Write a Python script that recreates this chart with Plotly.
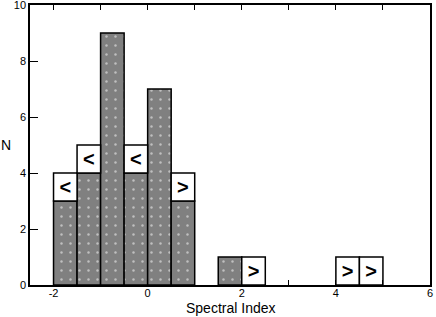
import plotly.graph_objects as go

# Histogram of spectral index (bin width 0.5)
det_centers = [-1.75, -1.25, -0.75, -0.25, 0.25, 0.75, 1.75]
det_counts = [3, 4, 9, 4, 7, 3, 1]

lim_centers = [-1.75, -1.25, -0.25, 0.75, 2.25, 4.25, 4.75]
lim_counts = [1, 1, 1, 1, 1, 1, 1]
lim_symbols = ["<", "<", "<", ">", ">", ">", ">"]

x_ticks = [-2, 0, 2, 4, 6]
y_ticks = [0, 2, 4, 6, 8, 10]

det_lookup = dict(zip(det_centers, det_counts))
lim_base = [det_lookup.get(c, 0) for c in lim_centers]

fig = go.Figure()
fig.add_trace(go.Bar(
    x=det_centers, y=det_counts, width=0.5,
    marker=dict(color="#808080",
                line=dict(color="black", width=1.5),
                pattern=dict(shape=".", bgcolor="#808080", fgcolor="white",
                             size=9, solidity=0.06, fillmode="overlay")),
    showlegend=False, hoverinfo="skip",
))
fig.add_trace(go.Bar(
    x=lim_centers, y=lim_counts, base=lim_base, width=0.5,
    marker=dict(color="white", line=dict(color="black", width=1.5)),
    text=lim_symbols, textposition="inside", insidetextanchor="middle",
    textangle=0, constraintext="none",
    textfont=dict(family="Liberation Sans, Arial, sans-serif", size=20, color="black", weight="bold"),
    showlegend=False, hoverinfo="skip",
))

font = dict(family="Liberation Sans, Arial, Helvetica, sans-serif", size=12, color="black")
fig.update_layout(
    width=436, height=317,
    margin=dict(l=30, r=6, t=5, b=32, autoexpand=False),
    paper_bgcolor="white", plot_bgcolor="white",
    font=font, barmode="overlay",
    xaxis=dict(range=[-2.5, 6], tickvals=x_ticks, ticktext=[str(v) for v in x_ticks],
               ticks="inside", ticklen=5, tickwidth=1, tickcolor="black",
               minor=dict(dtick=1, ticks="inside", ticklen=5, tickcolor="black"),
               showline=True, linecolor="black", linewidth=1.5, mirror="allticks",
               showgrid=False, zeroline=False, automargin=False,
               ticklabelstandoff=-3, ticklabeloverflow="allow",
               tickfont=dict(size=11)),
    yaxis=dict(range=[0, 10], tickvals=y_ticks,
               ticks="inside", ticklen=8, tickwidth=1, tickcolor="black",
               showline=True, linecolor="black", linewidth=1.5, mirror=True,
               showgrid=False, zeroline=False, automargin=False,
               ticklabeloverflow="allow",
               tickfont=dict(size=11)),
    annotations=[
        dict(text="Spectral Index", xref="paper", yref="paper", x=0.5025, y=-0.082,
             showarrow=False, font=dict(size=14), xanchor="center", yanchor="middle"),
        dict(text="N", xref="paper", yref="paper", x=-0.06, y=0.5,
             showarrow=False, font=dict(size=14), xanchor="center", yanchor="middle"),
    ],
)
fig.write_html("out.html", config={"displayModeBar": False},
               post_script="document.body.style.margin='0';document.body.style.padding='0';")
